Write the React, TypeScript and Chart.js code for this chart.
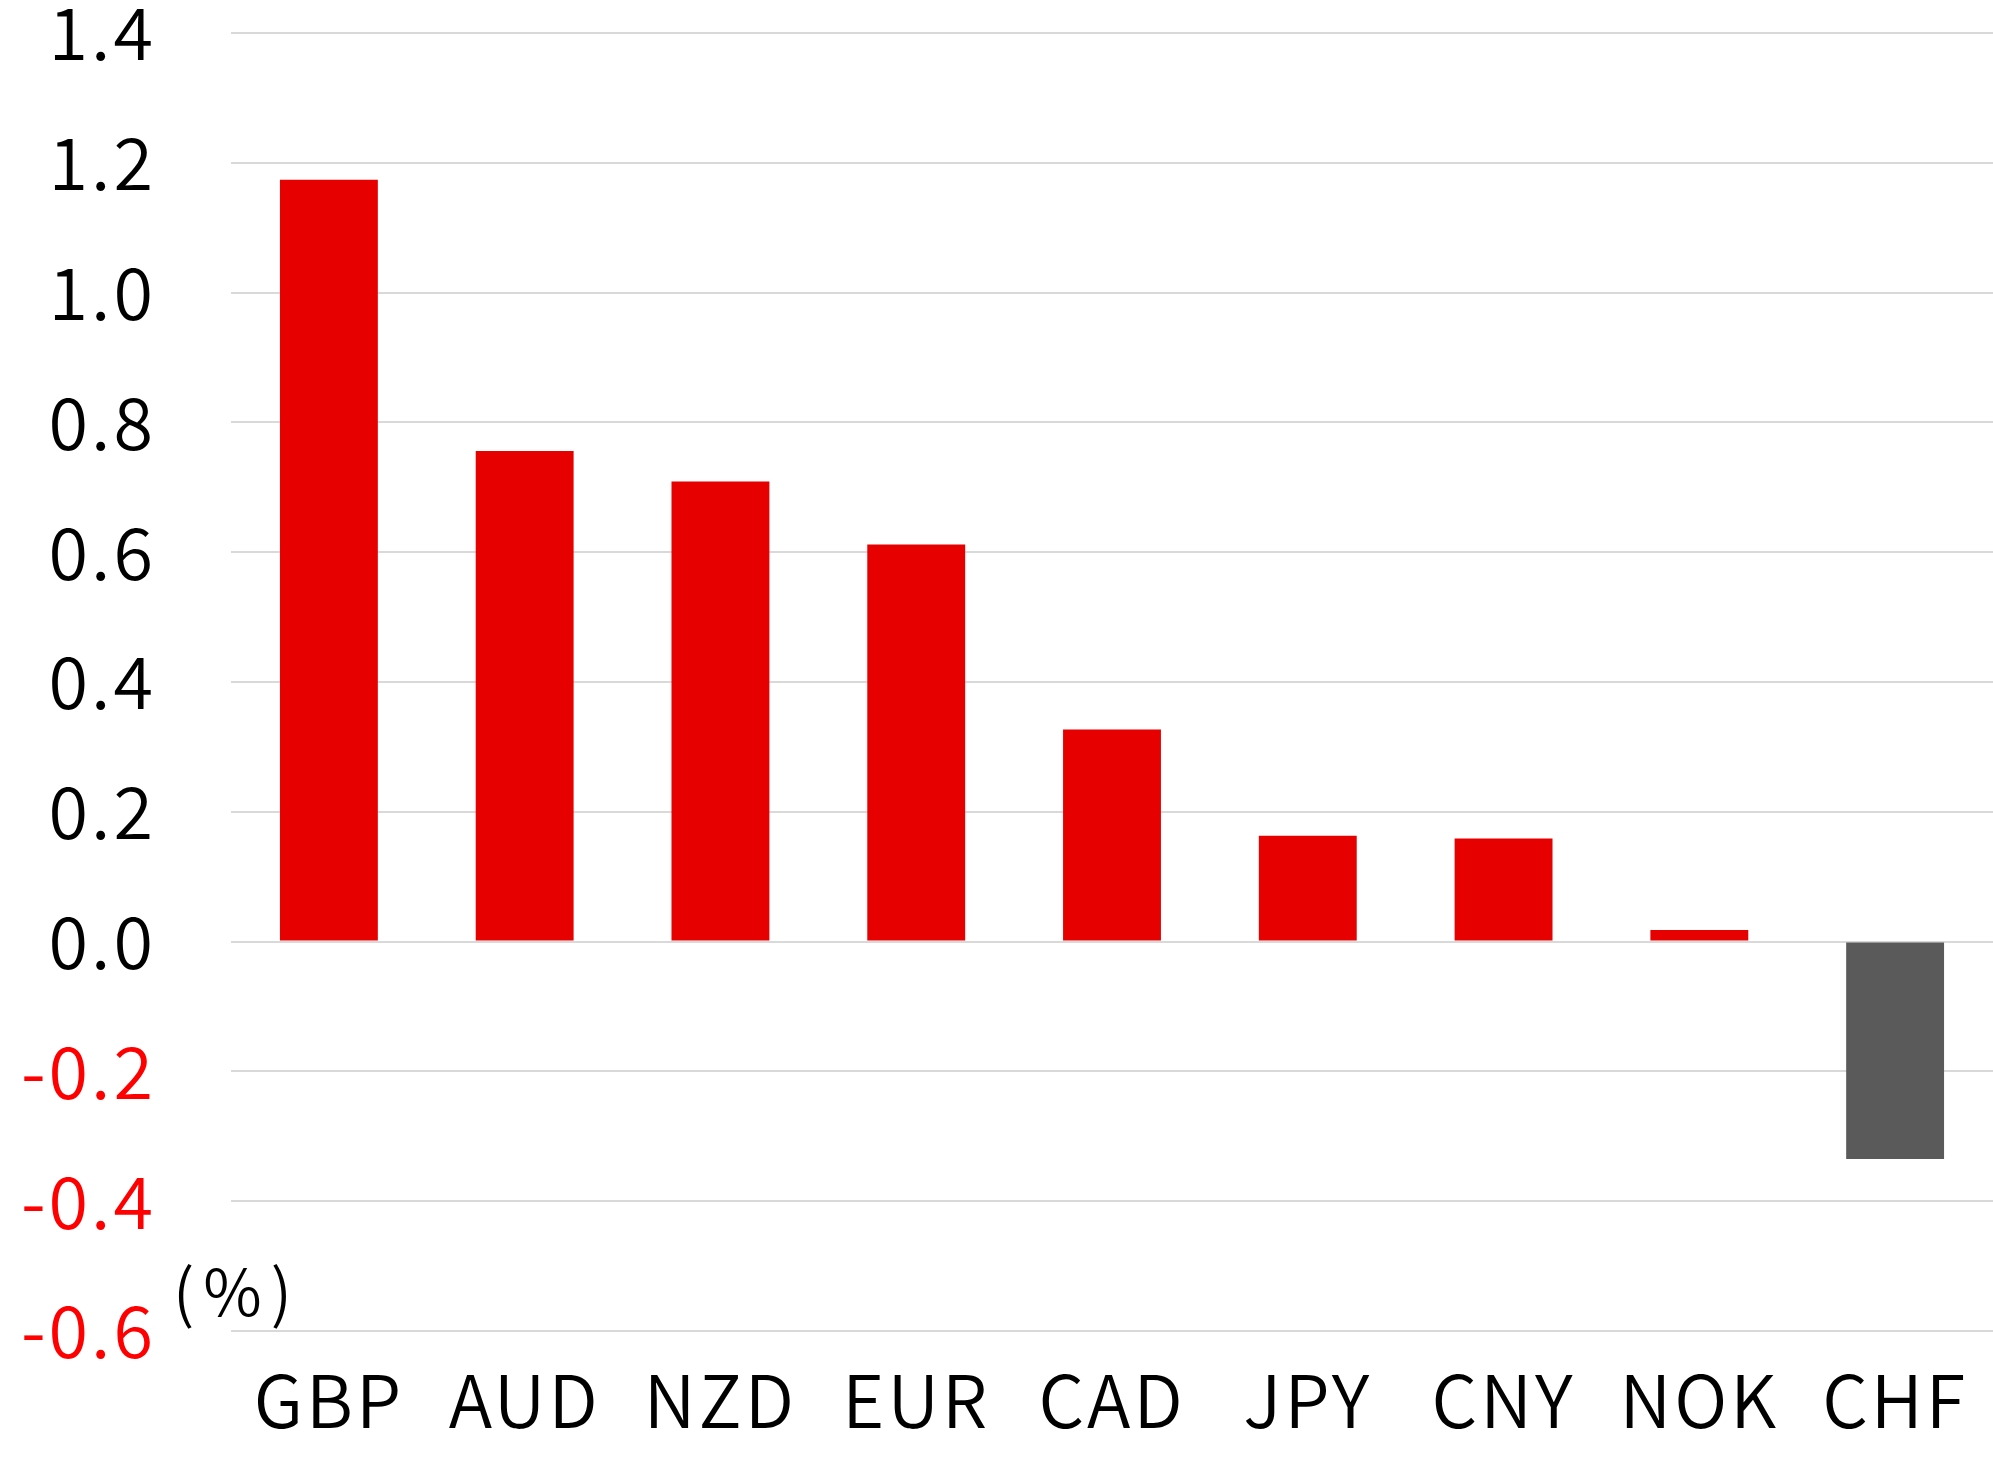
import React, { useEffect, useRef } from "react";
import { Chart, registerables } from "chart.js";

Chart.register(...registerables);

const categories = ["GBP", "AUD", "NZD", "EUR", "CAD", "JPY", "CNY", "NOK", "CHF"];
const values = [1.174, 0.756, 0.709, 0.612, 0.327, 0.163, 0.159, 0.018, -0.335];
const unitLabel = "(%)";
const yMin = -0.6;
const yMax = 1.4;
const yStep = 0.2;

const POS_COLOR = "#e60000";
const NEG_COLOR = "#5a5a5a";
const FONT = "'Noto Sans CJK JP', 'Noto Sans', sans-serif";

const spacingPlugin = {
  id: "letterSpacing",
  beforeDraw(chart: any) {
    chart.ctx.letterSpacing = "3px";
  },
};

const unitPlugin = {
  id: "unitLabel",
  afterDraw(chart: any) {
    const ctx = chart.ctx;
    ctx.save();
    ctx.letterSpacing = "9px";
    ctx.font = `350 64px ${FONT}`;
    ctx.fillStyle = "#000000";
    ctx.textAlign = "left";
    ctx.textBaseline = "middle";
    ctx.fillText(unitLabel, 173, 1292);
    ctx.restore();
  },
};

export default function App() {
  const ref = useRef<HTMLCanvasElement | null>(null);

  useEffect(() => {
    if (!ref.current) return;
    const chart = new Chart(ref.current, {
      type: "bar",
      data: {
        labels: categories,
        datasets: [
          {
            data: values,
            backgroundColor: values.map((v) => (v < 0 ? NEG_COLOR : POS_COLOR)),
            borderWidth: 0,
            barPercentage: 0.5,
            categoryPercentage: 1.0,
          },
        ],
      },
      options: {
        animation: false,
        responsive: true,
        maintainAspectRatio: false,
        layout: { padding: { top: 33, right: 0, bottom: 0, left: 0 } },
        plugins: {
          legend: { display: false },
          tooltip: { enabled: false },
          title: { display: false },
        },
        scales: {
          x: {
            grid: { display: false, drawTicks: false },
            border: { display: false },
            ticks: {
              color: "#000000",
              font: { family: FONT, size: 72, weight: "350" },
              padding: 26,
              maxRotation: 0,
              autoSkip: false,
            },
            afterFit(scale: any) {
              scale.height = 133;
              scale.paddingLeft = 0;
              scale.paddingRight = 0;
            },
          },
          y: {
            min: yMin,
            max: yMax,
            grid: {
              color: "#d9d9d9",
              lineWidth: 2,
              drawTicks: false,
            },
            border: { display: false },
            ticks: {
              stepSize: yStep,
              padding: 75,
              font: { family: FONT, size: 72, weight: "350" },
              color: (c: any) => (c.tick.value < -1e-9 ? "#ff0000" : "#000000"),
              callback: (v: any) => {
                const r = Math.round(Number(v) * 10) / 10;
                return (Math.abs(r) < 1e-9 ? 0 : r).toFixed(1);
              },
            },
            afterFit(scale: any) {
              scale.width = 231;
              scale.paddingTop = 0;
              scale.paddingBottom = 0;
            },
          },
        },
      },
      plugins: [spacingPlugin, unitPlugin],
    });
    return () => chart.destroy();
  }, []);

  return (
    <div style={{ position: "absolute", left: 0, top: 0, width: 1993, height: 1464, background: "#ffffff" }}>
      <canvas ref={ref} />
    </div>
  );
}
